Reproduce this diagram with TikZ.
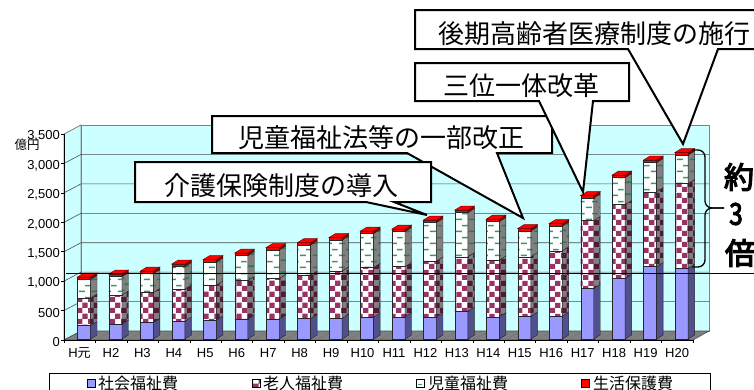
\documentclass[tikz,border=0pt]{standalone}
\usepackage{fontspec}
\setmainfont{Liberation Sans}
\newfontfamily\cjk{Noto Sans CJK JP}
\newfontfamily\cjkb[FakeBold=4]{Noto Sans CJK JP}
\usetikzlibrary{patterns}
\pgfdeclarepatternformonly{bigcheck}{\pgfqpoint{0pt}{0pt}}{\pgfqpoint{11pt}{11pt}}{\pgfqpoint{11pt}{11pt}}{%
 \pgfpathrectangle{\pgfqpoint{0pt}{0pt}}{\pgfqpoint{5.5pt}{5.5pt}}%
 \pgfpathrectangle{\pgfqpoint{5.5pt}{5.5pt}}{\pgfqpoint{5.5pt}{5.5pt}}%
 \pgfusepath{fill}}
\pgfdeclarepatternformonly{greendash}{\pgfqpoint{0pt}{0pt}}{\pgfqpoint{13pt}{12pt}}{\pgfqpoint{13pt}{12pt}}{%
 \pgfpathrectangle{\pgfqpoint{1pt}{2pt}}{\pgfqpoint{6pt}{1.6pt}}%
 \pgfpathrectangle{\pgfqpoint{7.5pt}{8pt}}{\pgfqpoint{5.5pt}{1.6pt}}%
 \pgfusepath{fill}}
\definecolor{wall}{RGB}{204,255,255}
\definecolor{wallgray}{RGB}{128,128,128}
\definecolor{bluef}{RGB}{153,153,255}
\definecolor{blues}{RGB}{80,80,140}
\definecolor{chkmaroon}{RGB}{153,51,102}
\definecolor{chkmaroons}{RGB}{80,25,55}
\definecolor{kidgreen}{RGB}{51,153,102}
\definecolor{floorgray}{RGB}{128,128,128}
\definecolor{redf}{RGB}{255,0,0}
\definecolor{reds}{RGB}{128,0,0}
\tikzset{
 edge/.style={draw=black!85, line width=0.4pt},
 blueF/.style={fill=bluef}, blueS/.style={fill=blues},
 chkF/.style={preaction={fill=white}, pattern=bigcheck, pattern color=chkmaroon},
 chkS/.style={preaction={fill=floorgray}, pattern=bigcheck, pattern color=chkmaroons},
 kidF/.style={preaction={fill=white}, pattern=greendash, pattern color=kidgreen},
 kidS/.style={preaction={fill=floorgray}, pattern=greendash, pattern color=kidgreen!80!black},
 redF/.style={fill=redf}, redS/.style={fill=reds},
 grid/.style={draw=black!70, line width=0.6pt},
 callout/.style={fill=white, draw=black, line width=2pt, line join=miter},
 ctext/.style={font=\cjk\fontsize{26}{26}\selectfont, inner sep=0pt},
 ylab/.style={anchor=east, font=\fontsize{13}{13}\selectfont, inner sep=0pt},
 xlab/.style={font=\fontsize{13}{13}\selectfont, inner sep=0pt},
 legtext/.style={font=\cjk\fontsize{16}{16}\selectfont, anchor=west, inner sep=0pt},
 bigtext/.style={font=\cjkb\fontsize{30}{30}\selectfont, inner sep=0pt},
 marker/.style={draw=black, line width=0.6pt},
}
\newcommand\barpart[7]{%
 \filldraw[#6, edge] (#1,#4) rectangle (#2,#5);
 \filldraw[#7, edge] (#2,#4) -- (#3,#4-4) -- (#3,#5-4) -- (#2,#5) -- cycle;}
\begin{document}
\begin{tikzpicture}[x=1pt,y=-1pt]
\useasboundingbox (0,0) rectangle (754,389);
\fill[white] (0,0) rectangle (754,389);
% walls
\filldraw[fill=wall, draw=wallgray, line width=0.8pt] (64,134) -- (81,125) -- (81,331) -- (64,340) -- cycle;
\filldraw[fill=wall, draw=wallgray, line width=0.8pt] (81,125) rectangle (709,331);
\foreach \v in {500,1000,...,3000}{
  \pgfmathsetmacro\by{331-0.05886*\v}
  \pgfmathsetmacro\fy{340-0.05886*\v}
  \draw[grid] (64,\fy) -- (81,\by) -- (709,\by);
}
% floor
\filldraw[fill=floorgray, draw=black!70, line width=0.6pt] (64,340) -- (693,340) -- (709,331) -- (81,331) -- cycle;
\foreach \k in {1,...,19} \draw[black!55, line width=0.5pt] (64+31.45*\k,340) -- (81+31.45*\k,331);
\foreach \k in {0,...,20} \draw[black, line width=0.6pt] (64+31.45*\k,340) -- (64+31.45*\k,343);
% axis
\draw[black, line width=0.8pt] (64,134) -- (64,340) -- (693,340);
\foreach \v/\l in {0/0,500/500,1000/{1,000},1500/{1,500},2000/{2,000},2500/{2,500},3000/{3,000},3500/{3,500}}{
  \pgfmathsetmacro\fy{340-0.05886*\v}
  \draw[black, line width=0.6pt] (61,\fy) -- (64,\fy);
  \node[ylab] (y\v) at (60,\fy+2) {\l};
}
\node[font=\cjk\fontsize{12.5}{12.5}\selectfont, inner sep=0pt] (unit) at (27,145) {億円};
\foreach \l [count=\i from 0] in {H{\cjk 元},H2,H3,H4,H5,H6,H7,H8,H9,H10,H11,H12,H13,H14,H15,H16,H17,H18,H19,H20}{
  \node[xlab] (x\i) at (79.5+31.45*\i,353) {\l};
}
% bars
\foreach \i/\t/\c/\e in {0/277/298/325.5, 1/274/295/324, 2/271/292.5/322.5, 3/264/289/321, 4/259.5/285/320, 5/253/280.5/319, 6/247.5/278.5/319, 7/242.5/275/318.5, 8/237.5/271/318.3, 9/231/267.5/317, 10/229/266.5/316.7, 11/220/261/316.7, 12/210/256.7/311, 13/219/260/316.7, 14/228.5/256.7/316, 15/223.5/250.7/316, 16/195.5/220.5/288.3, 17/175/204.5/278.3, 18/160/191.7/266.5, 19/152.5/183.5/268.3}{
  \pgfmathsetmacro\xa{77.5+31.45*\i}
  \pgfmathsetmacro\xb{\xa+13}
  \pgfmathsetmacro\xc{\xb+6.5}
  \pgfmathsetmacro\xd{\xa+6.5}
  \pgfmathsetmacro\tr{\t+2.5}
  \barpart{\xa}{\xb}{\xc}{\e}{339}{blueF}{blueS}
  \barpart{\xa}{\xb}{\xc}{\c}{\e}{chkF}{chkS}
  \barpart{\xa}{\xb}{\xc}{\tr}{\c}{kidF}{kidS}
  \barpart{\xa}{\xb}{\xc}{\t}{\tr}{redF}{redS}
  \filldraw[redF, draw=reds, line width=0.5pt] (\xa,\t) -- (\xb,\t) -- (\xc,\t-4) -- (\xd,\t-4) -- cycle;
}
% reference line
\coordinate (rl) at (66,273.5);
\coordinate (rr) at (760,273.5);
\draw[black, line width=1.5pt] (rl) -- (rr);
% brace
\coordinate (bt) at (692,150);
\coordinate (bb) at (692,267);
\coordinate (btip) at (724,208);
\draw[black, line width=1.3pt, rounded corners=7pt] (bt) -- (705,150) -- (705,208) -- (btip);
\draw[black, line width=1.3pt, rounded corners=7pt] (bb) -- (705,267) -- (705,208) -- (btip);
\node[bigtext] (yaku) at (739,177) {約};
\node[bigtext, xscale=0.8] (three) at (736,214) {3};
\node[bigtext] (bai) at (740,253) {倍};
% callouts
\filldraw[callout] (415,10) -- (770,10) -- (770,49) -- (718,49) -- (683,144) -- (628,49) -- (415,49) -- cycle;
\node[ctext] (c1) at (594,34) {後期高齢者医療制度の施行};
\filldraw[callout] (212,116) -- (552,116) -- (552,153) -- (497,153) -- (523,218) -- (407,153) -- (212,153) -- cycle;
\node[ctext] (c3) at (381,138) {児童福祉法等の一部改正};
\filldraw[callout] (135,162) -- (431,162) -- (431,202) -- (394,202) -- (427,215) -- (366,202) -- (135,202) -- cycle;
\node[ctext] (c4) at (281,186) {介護保険制度の導入};
\filldraw[callout] (415,63) -- (629,63) -- (629,101) -- (593,101) -- (583,192) -- (539,101) -- (415,101) -- cycle;
\node[ctext] (c2) at (521.5,86) {三位一体改革};
% legend
\draw[black, line width=0.8pt] (49,400) -- (49,373) -- (710,373) -- (710,400);
\filldraw[blueF, marker] (87,379) rectangle (95,387);
\node[legtext] (l1) at (98,383.5) {社会福祉費};
\filldraw[chkF, marker] (252,379) rectangle (260,387);
\node[legtext] (l2) at (263,383.5) {老人福祉費};
\filldraw[fill=white, marker] (416,379) rectangle (424,387);
\draw[kidgreen, line width=1pt] (418,384.5) -- (422,384.5);
\node[legtext] (l3) at (428,383.5) {児童福祉費};
\filldraw[redF, marker] (581,379) rectangle (589,387);
\node[legtext] (l4) at (593,383.5) {生活保護費};
\end{tikzpicture}
\end{document}
